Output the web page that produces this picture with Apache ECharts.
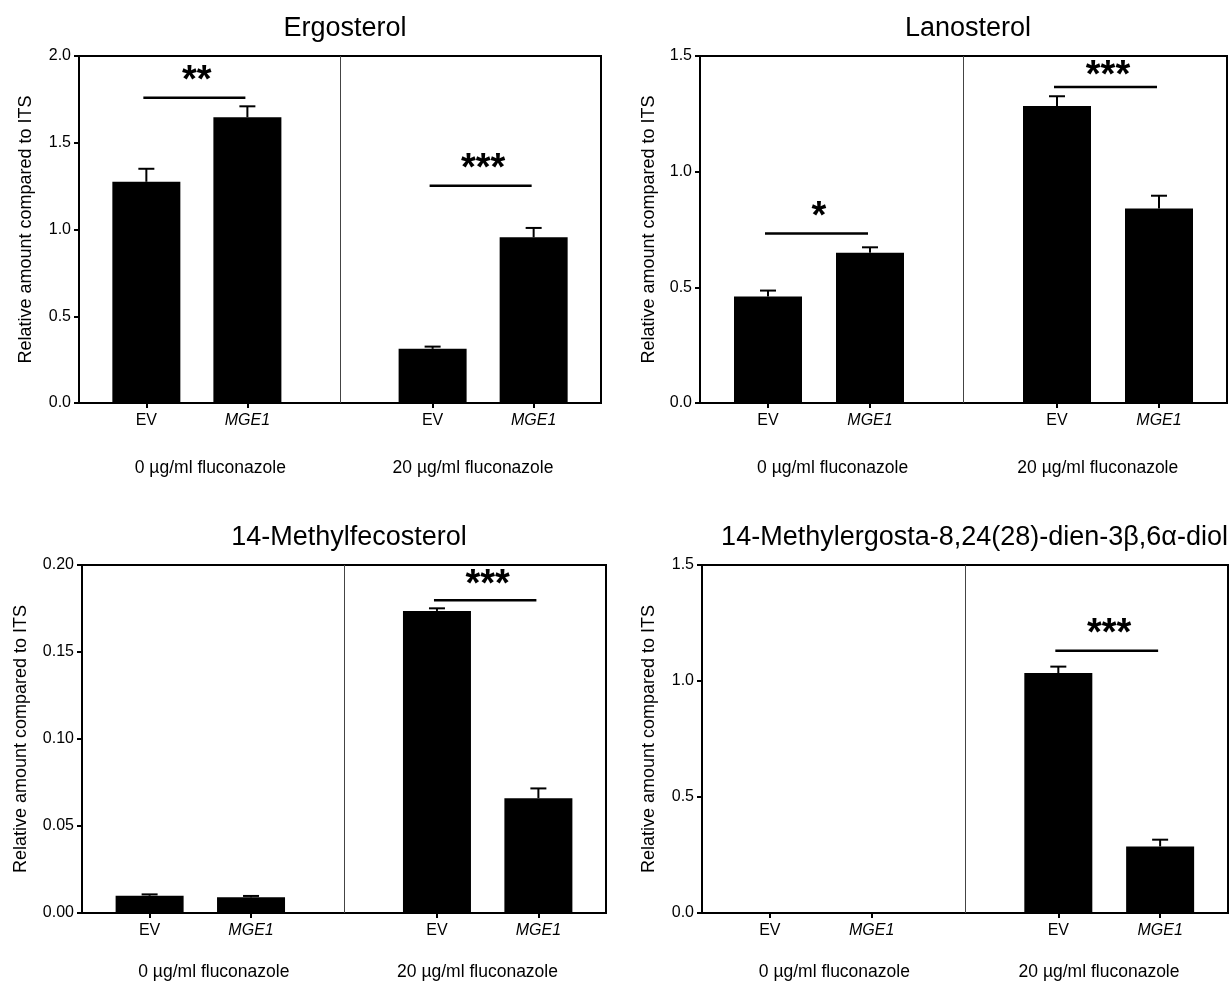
<!DOCTYPE html>
<html>
<head>
<meta charset="utf-8">
<script src="https://cdn.jsdelivr.net/npm/echarts@6/dist/echarts.min.js"></script>
<style>
html,body{margin:0;padding:0;background:#fff;}
#chart{width:1232px;height:985px;}
</style>
</head>
<body>
<div id="chart"></div>
<script>
// ---------- DATA ----------
const panelTitles = ['Ergosterol', 'Lanosterol', '14-Methylfecosterol', '14-Methylergosta-8,24(28)-dien-3\u03b2,6\u03b1-diol'];
const barLabels = ['EV', 'MGE1', 'EV', 'MGE1'];
const barItalic = [false, true, false, true];
const groupLabels = ['0 \u00b5g/ml fluconazole', '20 \u00b5g/ml fluconazole'];
const yAxisName = 'Relative amount compared to ITS';

const ergosterolMean = [1.275, 1.647, 0.312, 0.955];
const ergosterolErr  = [0.075, 0.063, 0.013, 0.054];
const lanosterolMean = [0.460, 0.650, 1.284, 0.841];
const lanosterolErr  = [0.026, 0.023, 0.042, 0.055];
const fecosterolMean = [0.0099, 0.0090, 0.1736, 0.0660];
const fecosterolErr  = [0.0008, 0.0008, 0.0015, 0.0056];
const diolMean = [0, 0, 1.034, 0.287];
const diolErr  = [0, 0, 0.028, 0.029];

const yMax = [2.0, 1.5, 0.20, 1.5];
const yInterval = [0.5, 0.5, 0.05, 0.5];
const yDecimals = [1, 1, 2, 1];

// significance brackets: [first bar index, second bar index, level, stars]
const ergosterolSig = [[0, 1, 1.76, '**'], [2, 3, 1.252, '***']];
const lanosterolSig = [[0, 1, 0.733, '*'], [2, 3, 1.366, '***']];
const fecosterolSig = [[2, 3, 0.1797, '***']];
const diolSig = [[2, 3, 1.13, '***']];

// ---------- LAYOUT ----------
const FONT = 'Liberation Sans, Arial, Helvetica, sans-serif';
const X_MAX = 31;
const barPos = [4, 10, 21, 27];
const dividerPos = 15.5;
const groupPos = [7.8, 23.4];
const grids = [
  {left: 79, top: 56, width: 522, height: 347},
  {left: 700, top: 56, width: 527, height: 347},
  {left: 82, top: 565, width: 524, height: 348},
  {left: 702, top: 565, width: 526, height: 348}
];
const nameGaps = [44, 42, 52, 44];
const groupMargins = [56, 56, 50, 50];
const titleLayout = [
  {left: 340, top: 10, align: 'center'},
  {left: 963, top: 10, align: 'center'},
  {left: 344, top: 519, align: 'center'},
  {left: 1223, top: 519, align: 'right'}
];

const means = [ergosterolMean, lanosterolMean, fecosterolMean, diolMean];
const errs = [ergosterolErr, lanosterolErr, fecosterolErr, diolErr];
const sigs = [ergosterolSig, lanosterolSig, fecosterolSig, diolSig];

const option = {
  animation: false,
  backgroundColor: '#fff',
  title: [], grid: [], xAxis: [], yAxis: [], series: []
};

for (let i = 0; i < 4; i++) {
  const tl = titleLayout[i];
  option.title.push({
    text: panelTitles[i], left: tl.left, top: tl.top, textAlign: tl.align,
    textStyle: {fontFamily: FONT, fontSize: 27, fontWeight: 'normal', color: '#000'}
  });
  option.grid.push(Object.assign({show: true, borderColor: '#000', borderWidth: 2, backgroundColor: 'transparent'}, grids[i]));
  // bar x-axis
  option.xAxis.push({
    gridIndex: i, type: 'value', min: 0, max: X_MAX,
    splitLine: {show: false},
    axisLine: {show: true, onZero: false, lineStyle: {color: '#000', width: 2}},
    axisTick: {show: true, customValues: barPos, length: 5, lineStyle: {color: '#000', width: 2}},
    axisLabel: {
      customValues: barPos, margin: 10, color: '#000', fontFamily: FONT, fontSize: 16,
      formatter: function (v) {
        const k = barPos.indexOf(v);
        if (k < 0) return '';
        return barItalic[k] ? '{it|' + barLabels[k] + '}' : barLabels[k];
      },
      rich: {it: {fontStyle: 'italic', fontFamily: FONT, fontSize: 16, color: '#000'}}
    }
  });
  // group label axis
  option.xAxis.push({
    gridIndex: i, type: 'value', min: 0, max: X_MAX, position: 'bottom',
    splitLine: {show: false}, axisLine: {show: false}, axisTick: {show: false},
    axisLabel: {
      customValues: groupPos, margin: groupMargins[i], color: '#000', fontFamily: FONT, fontSize: 17.5,
      formatter: function (v) {
        const k = groupPos.indexOf(v);
        return k < 0 ? '' : groupLabels[k];
      }
    }
  });
  option.yAxis.push({
    gridIndex: i, type: 'value', min: 0, max: yMax[i], interval: yInterval[i],
    splitLine: {show: false},
    axisLine: {show: true, onZero: false, lineStyle: {color: '#000', width: 2}},
    axisTick: {show: true, length: 5, lineStyle: {color: '#000', width: 2}},
    axisLabel: {
      margin: 8, color: '#000', fontFamily: FONT, fontSize: 16,
      formatter: (function (d) { return function (v) { return v.toFixed(d); }; })(yDecimals[i])
    },
    name: yAxisName, nameLocation: 'middle', nameRotate: 90, nameGap: nameGaps[i],
    nameTextStyle: {fontFamily: FONT, fontSize: 18, color: '#000'}
  });

  const m = means[i], e = errs[i];
  option.series.push({
    type: 'bar', xAxisIndex: 2 * i, yAxisIndex: i,
    data: barPos.map((p, k) => [p, m[k]]),
    barWidth: 68,
    itemStyle: {color: '#000'},
    silent: true,
    markLine: {
      silent: true, symbol: ['none', 'none'],
      label: {show: false},
      lineStyle: {color: '#444', width: 1, type: 'solid'},
      data: [{xAxis: dividerPos}]
    }
  });
  option.series.push({
    type: 'custom', xAxisIndex: 2 * i, yAxisIndex: i, z: 5, silent: true,
    encode: {x: 0, y: 1},
    data: barPos.map((p, k) => [p, m[k], e[k]]),
    renderItem: function (params, api) {
      const x = api.value(0), v = api.value(1), er = api.value(2);
      if (!er) return null;
      const p0 = api.coord([x, v]);
      const p1 = api.coord([x, v + er]);
      const half = 8;
      return {
        type: 'group', children: [
          {type: 'line', shape: {x1: p0[0], y1: p0[1], x2: p1[0], y2: p1[1]}, style: {stroke: '#000', lineWidth: 2}},
          {type: 'line', shape: {x1: p1[0] - half, y1: p1[1], x2: p1[0] + half, y2: p1[1]}, style: {stroke: '#000', lineWidth: 2}}
        ]
      };
    }
  });
  const s = sigs[i];
  option.series.push({
    type: 'custom', xAxisIndex: 2 * i, yAxisIndex: i, z: 5, silent: true,
    encode: {x: [0, 1], y: 2},
    data: s.map(r => [barPos[r[0]], barPos[r[1]], r[2]]),
    renderItem: (function (sig) {
      return function (params, api) {
        const a = api.coord([api.value(0), api.value(2)]);
        const b = api.coord([api.value(1), api.value(2)]);
        const stars = sig[params.dataIndex][3];
        const cs = params.coordSys;
        const ty = Math.max(a[1] - 16, cs.y + 21);
        return {
          type: 'group', children: [
            {type: 'line', shape: {x1: a[0] - 3, y1: a[1], x2: b[0] - 2, y2: b[1]}, style: {stroke: '#000', lineWidth: 2.5}},
            {type: 'text', x: (a[0] + b[0]) / 2, y: ty,
             style: {text: stars, fill: '#000', font: 'bold 38px ' + FONT, align: 'center', verticalAlign: 'middle'}}
          ]
        };
      };
    })(s)
  });
}

const chart = echarts.init(document.getElementById('chart'), null, {renderer: 'canvas'});
chart.setOption(option);
</script>
</body>
</html>
